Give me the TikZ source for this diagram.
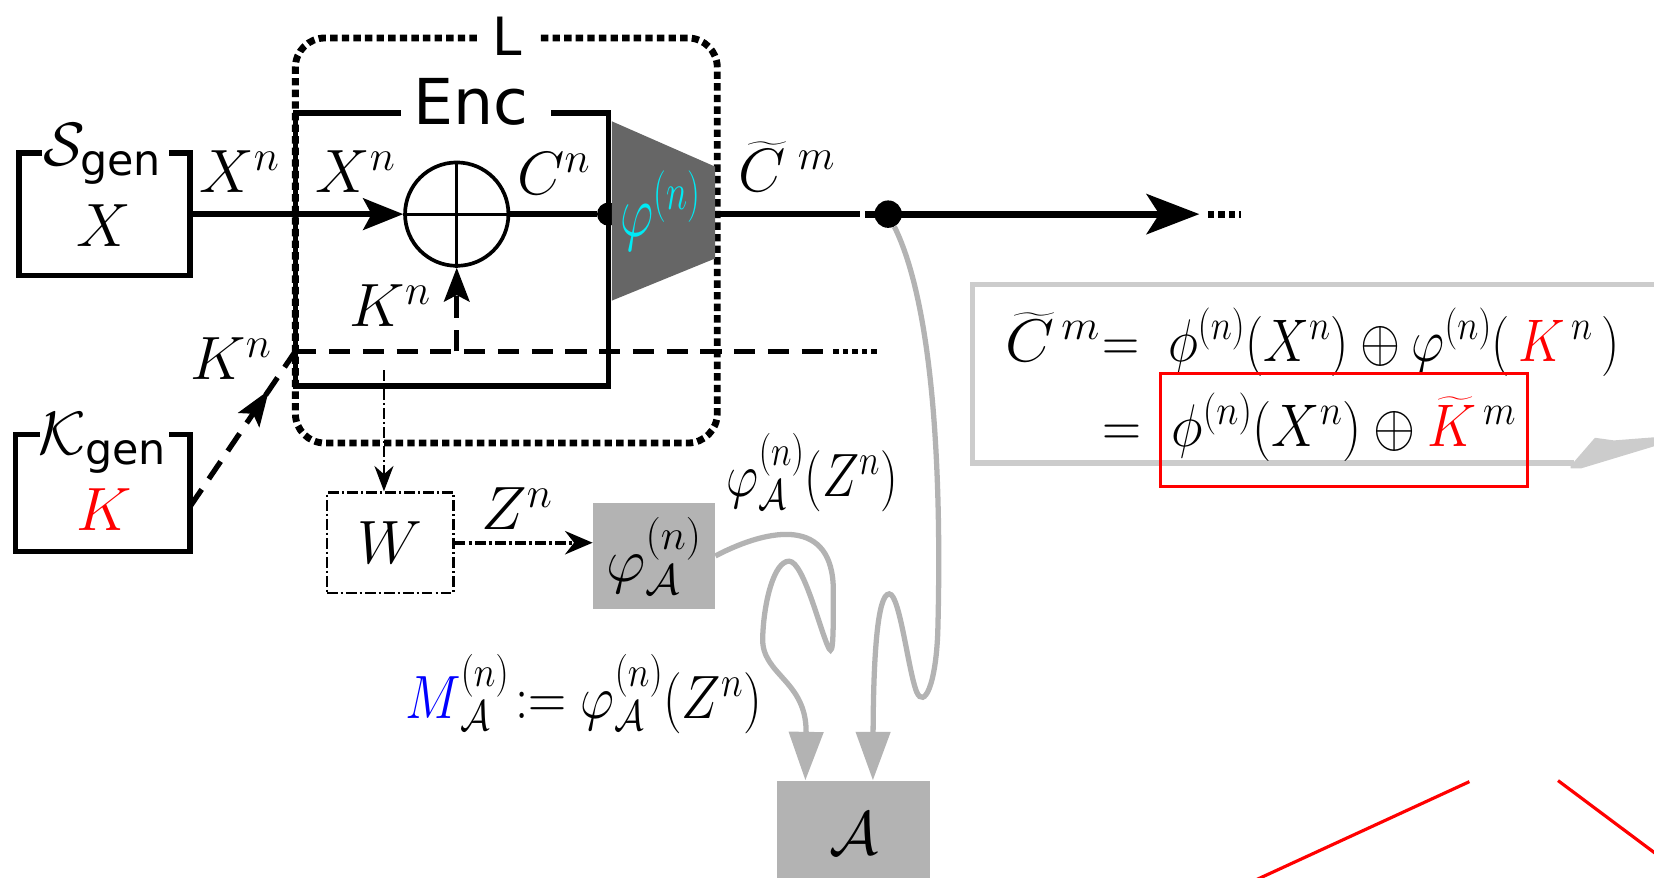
\RequirePackage{fix-cm}
\documentclass[tikz,border=0pt]{standalone}
\usepackage{amsmath}
\usepackage{graphicx}
\usepackage{fontspec}
\newfontfamily\sansf{DejaVu Sans}
\usetikzlibrary{arrows.meta,calc,decorations.markings}
\definecolor{agray}{HTML}{B3B3B3}
\definecolor{dgray}{HTML}{666666}
\definecolor{lgray}{HTML}{CCCCCC}
\definecolor{phic}{RGB}{0,235,245}
\newcommand{\fsA}{\fontsize{58}{62}\selectfont}
\newcommand{\fsP}{\fontsize{70}{74}\selectfont}
\newcommand{\fsQ}{\fontsize{57}{60}\selectfont}
\newcommand{\fsE}{\fontsize{60}{64}\selectfont}
\newcommand{\fsL}{\fontsize{50}{54}\selectfont}
\tikzset{
  thickline/.style={line width=5pt},
  blackbox/.style={line width=5pt, line join=miter},
  ldots/.style={line width=6.5pt, dash pattern=on 7pt off 4pt},
  kdash/.style={line width=5pt, dash pattern=on 20pt off 12pt},
  ddot/.style={line width=2.5pt, dash pattern=on 10pt off 3pt on 2pt off 3pt},
  graycurve/.style={agray, line width=5pt, -{Triangle[length=46pt,width=32pt]}},
  lbl/.style={inner sep=0pt},
  area/.style={inner sep=0pt, outer sep=0pt},
}
\begin{document}
\begin{tikzpicture}[x=1pt,y=-1pt]
\useasboundingbox (0,0) rectangle (1568,832);

% ---------- equation callout box (right) ----------
\draw[lgray, line width=5pt] (1575,270) -- (922,270) -- (922,439) -- (1492,439);
\fill[lgray] (1489,441.5) -- (1512,415) -- (1530,417.5) -- (1575,414) -- (1575,421) -- (1499,444) -- (1489,444) -- cycle;
\node[lbl, anchor=base east] (eq1a) at (1043,343) {\resizebox{90pt}{\height}{\fsQ$\widetilde{C}^{\,m}$}};
\node[lbl, anchor=base west] (eq1b) at (1045,343) {\resizebox{490pt}{\height}{\fsQ$=\;\phi^{(n)}(X^n)\oplus\varphi^{(n)}(\,{\color{red}K}^{\,n}\,)$}};
\node[lbl, anchor=base west] (eq2) at (1045,423) {\resizebox{392pt}{\height}{\fsQ$=\;\phi^{(n)}(X^n)\oplus{\color{red}\widetilde{K}}^{\,m}$}};
\node[area, draw=red, line width=2.5pt, minimum width=348pt, minimum height=107pt] (hl) at (1274,407.5) {};

% red lines at bottom right
\draw[red, line width=3pt] (1167,845) -- (1393,741);
\draw[red, line width=3pt] (1477,740) -- (1580,817);

% ---------- source boxes ----------
\node[area, minimum width=162pt, minimum height=116pt] (Sbox) at (99,203) {};
\draw[blackbox] ($(Sbox.north west)+(22,0)$) -- (Sbox.north west) -- (Sbox.south west) -- (Sbox.south east) -- (Sbox.north east) -- ($(Sbox.north east)+(-20,0)$);
\node (Slbl) at (97,146) {\fsA$\mathcal{S}_{\text{\sansf gen}}$};
\node (SX) at (98,214) {\fsA$X$};

\node[area, minimum width=165pt, minimum height=111pt] (Kbox) at (97.5,467.5) {};
\draw[blackbox] ($(Kbox.north west)+(23,0)$) -- (Kbox.north west) -- (Kbox.south west) -- (Kbox.south east) -- (Kbox.north east) -- ($(Kbox.north east)+(-20,0)$);
\node (Klbl) at (97,420) {\fsA$\mathcal{K}_{\text{\sansf gen}}$};
\node (KK) at (99,483) {\fsA$\color{red}K$};

% ---------- L box ----------
\node[area, minimum width=400pt, minimum height=384pt] (Lbox) at (480,228) {};
\draw[ldots, rounded corners=28pt] ($(Lbox.north)+(-28,0)$) -- (Lbox.north west) -- (Lbox.south west) -- (Lbox.south east) -- (Lbox.north east) -- ($(Lbox.north)+(32,0)$);
\node (Llbl) at (481,34) {\fsL\sansf L};

% ---------- Enc box ----------
\node[area, minimum width=297pt, minimum height=259pt] (Enc) at (428.5,236.5) {};
\node (Enclbl) at (446,97) {\fsE\sansf Enc};

% half dot behind trapezoid
\node[circle, fill, minimum size=22pt, inner sep=0pt] (cdot) at (577,203) {};
\draw[blackbox] ($(Enc.north west)+(100,0)$) -- (Enc.north west) -- (Enc.south west) -- (Enc.south east) -- (Enc.north east) -- ($(Enc.north east)+(-55,0)$);

% trapezoid phi^(n)
\fill[dgray] (580,115) -- (678,158) -- (678,245) -- (580,285) -- cycle;
\node[text=phic, inner sep=0pt] (phi) at (626,200) {\resizebox{76pt}{\height}{\fsP$\varphi^{(n)}$}};
\coordinate (trapR) at (678,203);

% XOR
\node[circle, draw, line width=3.5pt, minimum size=98pt, inner sep=0pt] (xor) at (433,203) {};
\draw[line width=3pt] (xor.north) -- (xor.south);
\draw[line width=3pt] (xor.west) -- (xor.east);

% main X line
\draw[thickline, -{Stealth[length=38pt,width=30pt,inset=8pt]}] (Sbox.east) -- (xor.west);
\node (Xn1) at (227,163) {\fsA$X^n$};
\node (Xn2) at (337,163) {\fsA$X^n$};
\draw[thickline] (xor.east) -- (cdot);
\node (Cn) at (525,165) {\fsA$C^n$};

% output
\coordinate (o1) at (815,203);
\coordinate (o2) at (820,203);
\coordinate (oend) at (1137,203);
\coordinate (od1) at (1145,203);
\coordinate (od2) at (1176,203);
\draw[thickline] (trapR) -- (o1);
\draw[line width=6.5pt, -{Stealth[length=50pt,width=38pt,inset=12pt]}] (o2) -- (oend);
\draw[line width=6.5pt, dash pattern=on 6pt off 4pt] (od1) -- (od2);
\node[circle, fill, minimum size=26pt, inner sep=0pt] (odot) at (842,203) {};
\node[lbl, anchor=base west] (Ctl) at (700,182) {\fsA$\widetilde{C}^{\;m}$};

% K dashed lines
\coordinate (kj) at (280,333);
\coordinate (kb) at (433,333);
\coordinate (kd1) at (783,333);
\coordinate (kd2) at (790,333);
\coordinate (kd3) at (833,333);
\draw[kdash, postaction=decorate, decoration={markings, mark=at position 0.75 with {\arrow{Stealth[length=34pt,width=24pt,inset=7pt]}}}] ($(Kbox.east)+(0,13)$) -- (kj);
\draw[kdash] (kj) -- (kd1);
\draw[line width=5pt, dash pattern=on 5pt off 4pt] (kd2) -- (kd3);
\draw[kdash, -{Stealth[length=32pt,width=24pt,inset=6pt]}] (kb) -- (xor.south);
\node (Kn1) at (219,340) {\fsA$K^n$};
\node (Kn2) at (370,290) {\fsA$K^n$};

% W box
\node[draw, ddot, minimum width=120pt, minimum height=95pt] (W) at (370,514.5) {\fsA$W$};
\coordinate (wtop) at (364,351);
\draw[ddot, -{Stealth[length=24pt,width=18pt]}] (wtop) -- (W.north -| wtop);

% phi_A box
\node[fill=agray, minimum width=116pt, minimum height=100pt, inner sep=0pt] (phiA) at (620,527) {\fsA$\varphi_{\mathcal{A}}^{(n)}$};
\draw[line width=4pt, dash pattern=on 10pt off 3pt on 3pt off 3pt, -{Stealth[length=26pt,width=22pt]}] (W.east) -- (W.east -| phiA.west);
\node (Zn) at (490,482) {\fsA$Z^n$};
\node (phiAZ) at (770,448) {\resizebox{162pt}{\height}{\fsA$\varphi_{\mathcal{A}}^{(n)}(Z^n)$}};
\node[lbl, anchor=base west] (Mdef) at (384,681) {\resizebox{338pt}{\height}{\fsA${\color{blue}M}_{\mathcal{A}}^{(n)}\!:=\varphi_{\mathcal{A}}^{(n)}(Z^n)$}};

% A box
\node[fill=agray, minimum width=145pt, minimum height=100pt, inner sep=0pt] (A) at (809.5,790) {\fsA$\mathcal{A}$};

% gray curves
\draw[graycurve] (phiA.east) .. controls (730,500) and (790,490) .. (790,560) .. controls (790,600) and (790,622) .. (786,615) .. controls (778,600) and (762,532) .. (748,532) .. controls (734,532) and (724,570) .. (723,605) .. controls (722,640) and (765,645) .. ($(A.north)+(-46,0)$);
\draw[graycurve] (odot) .. controls (885,290) and (893,450) .. (889,600) .. controls (887,650) and (876,672) .. (869,656) .. controls (861,636) and (853,563) .. (843,563) .. controls (832,563) and (828,620) .. ($(A.north)+(18,0)$);
\end{tikzpicture}
\end{document}
